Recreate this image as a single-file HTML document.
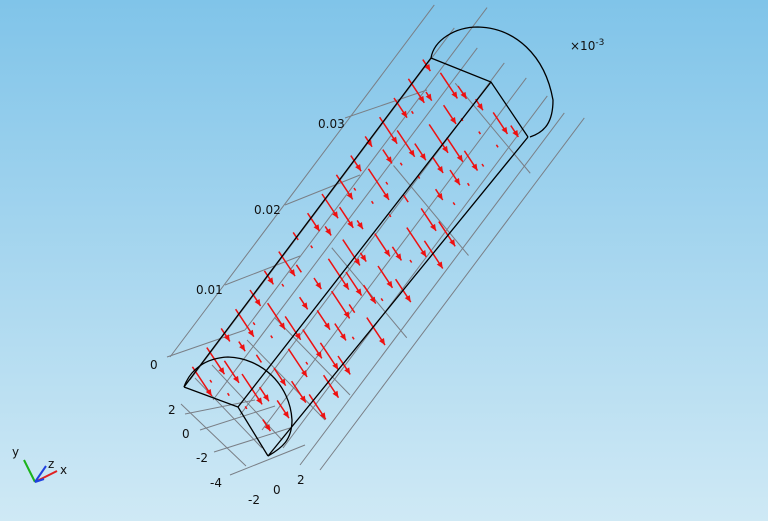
<!DOCTYPE html>
<html><head><meta charset="utf-8"><style>
html,body{margin:0;padding:0;width:768px;height:521px;overflow:hidden}
body{background:linear-gradient(#80c4e9,#cfe9f5);font-family:"Liberation Sans","DejaVu Sans",sans-serif}
svg{position:absolute;left:0;top:0}
text{font-family:"DejaVu Sans","Liberation Sans",sans-serif;font-size:12px;fill:#111}
</style></head><body>
<svg id="s" width="768" height="521" viewBox="0 0 768 521">
<g id="grid" stroke="#7a7f86" stroke-width="1" fill="none">
<line x1="167" y1="357" x2="245" y2="330"/>
<line x1="225" y1="285" x2="300" y2="256"/>
<line x1="285" y1="205" x2="360" y2="175"/>
<line x1="345" y1="118" x2="427" y2="90"/>
</g>
<g id="arr"></g>
<g stroke="#000" stroke-width="1.3" fill="none">
<path d="M184,387 L238,407 L268,456"/>
<path d="M184,387 C190,370 205,358 228,357 C262,358 290,385 292,420 C292,440 282,448 268,456"/>
<path d="M431,58 L491,82 L528,137"/>
<path d="M431,58 C434,40 455,27 478,27 C515,28 545,55 553,100 C553,122 545,132 530,137"/>
<line x1="184" y1="387" x2="431" y2="58"/>
<line x1="238" y1="407" x2="491" y2="82"/>
<line x1="268" y1="456" x2="528" y2="137"/>
</g>
<text x="318" y="128">0.03</text>
<text x="254" y="214">0.02</text>
<text x="196" y="294">0.01</text>
<text x="150" y="369">0</text>
<text x="168" y="414">2</text>
<text x="182" y="438">0</text>
<text x="196" y="462">-2</text>
<text x="210" y="487">-4</text>
<text x="248" y="504">-2</text>
<text x="273" y="494">0</text>
<text x="297" y="484">2</text>
<text x="570" y="50">×10<tspan dy="-5" font-size="9">-3</tspan></text>
<g stroke-width="2" fill="none">
<line x1="35" y1="482" x2="24" y2="460" stroke="#1bb31b"/>
<line x1="35" y1="482" x2="57" y2="471" stroke="#e02020"/>
<line x1="35" y1="482" x2="46" y2="466" stroke="#2040e0"/>
<line x1="35" y1="482" x2="44" y2="479" stroke="#2040e0"/>
</g>
<text x="12" y="456" font-size="11">y</text>
<text x="48" y="468" font-size="11">z</text>
<text x="60" y="474" font-size="11">x</text>
</svg>
<script>
var ns="http://www.w3.org/2000/svg",g=document.getElementById("grid"),a=document.getElementById("arr");
function L(p,x1,y1,x2,y2,c,w){var l=document.createElementNS(ns,"line");l.setAttribute("x1",x1);l.setAttribute("y1",y1);l.setAttribute("x2",x2);l.setAttribute("y2",y2);if(c){l.setAttribute("stroke",c);l.setAttribute("stroke-width",w);}p.appendChild(l);}
var dx=247,dy=-329;
var starts=[[170,357],[190,380],[213,400],[240,415],[262,430],[283,448],[300,465],[320,470],[245,330]];
starts.forEach(function(s,i){var k=i==8?0.98:1.07;L(g,s[0],s[1],s[0]+dx*k,s[1]+dy*k);});
var bl=[[181,404,246,466],[195,378,262,448],[212,365,282,440],[247,340,325,420],[275,318,350,395]];
bl.forEach(function(b){L(g,b[0],b[1],b[2],b[3]);});
var cl=[[185,414,255,400],[200,430,275,406],[214,452,290,428],[230,475,305,445]];
cl.forEach(function(b){L(g,b[0],b[1],b[2],b[3]);});
for(var t=1;t<4;t++){var ox=dx*t*0.25,oy=dy*t*0.25;L(g,270+ox,330+oy,345+ox,420+oy);}
var seed=11;function r(){seed=(seed*9301+49297)%233280;return seed/233280;}
var ax=0.6,ay=-0.8,px=0.8,py=0.6;
for(var s=10;s<=400;s+=24){
 for(var c=0;c<6;c++){
  var off=8+c*22;
  var x=180+px*off+ax*s, y=370+py*off+ay*s;
  if(off>100 && s<40) continue;
  var len=r()<0.3?3:8+r()*30;
  var ex=x+len*0.55,ey=y+len*0.83;
  L(a,x,y,ex,ey,"#ee1111",1.5);
  if(len>10){var p=document.createElementNS(ns,"polygon");
   p.setAttribute("points",ex+","+ey+" "+(ex-6)+","+(ey-4)+" "+(ex-1)+","+(ey-7));p.setAttribute("fill","#ee1111");a.appendChild(p);}
 }}
</script>
</body></html>
